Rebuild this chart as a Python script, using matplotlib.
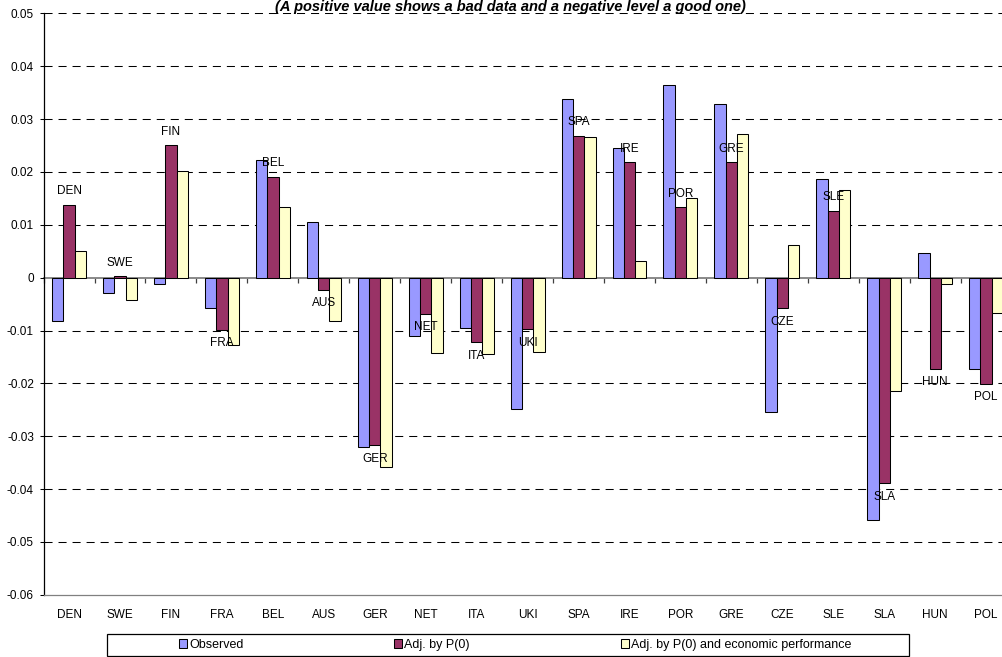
import numpy as np
import matplotlib
matplotlib.use("Agg")
import matplotlib.pyplot as plt
import matplotlib.patches as patches

plt.rcParams['font.family'] = ['Liberation Sans', 'DejaVu Sans']
plt.rcParams['lines.scale_dashes'] = False

countries = ["DEN", "SWE", "FIN", "FRA", "BEL", "AUS", "GER", "NET", "ITA", "UKI",
             "SPA", "IRE", "POR", "GRE", "CZE", "SLE", "SLA", "HUN", "POL"]

observed = [-0.0081, -0.0029, -0.0012, -0.0057, 0.0222, 0.0105, -0.0321, -0.0111, -0.0095, -0.0249,
            0.0338, 0.0245, 0.0365, 0.0328, -0.0254, 0.0187, -0.0458, 0.0047, -0.0172]
adj_p0 = [0.0138, 0.0003, 0.0251, -0.0099, 0.0191, -0.0023, -0.0317, -0.0069, -0.0122, -0.0098,
          0.0269, 0.0218, 0.0133, 0.0218, -0.0058, 0.0127, -0.0389, -0.0172, -0.0201]
adj_p0_econ = [0.0051, -0.0043, 0.0201, -0.0127, 0.0133, -0.0082, -0.0359, -0.0142, -0.0145, -0.0141,
               0.0267, 0.0031, 0.0150, 0.0272, 0.0062, 0.0166, -0.0215, -0.0012, -0.0066]

series_names = ["Observed", "Adj. by P(0)", "Adj. by P(0) and economic performance"]
series_colors = ["#9999FF", "#993366", "#FFFFCC"]

yticks = [0.05, 0.04, 0.03, 0.02, 0.01, 0, -0.01, -0.02, -0.03, -0.04, -0.05, -0.06]
ytick_labels = ["0.05", "0.04", "0.03", "0.02", "0.01", "0", "-0.01", "-0.02", "-0.03", "-0.04", "-0.05", "-0.06"]

title = "(A positive value shows a bad data and a negative level a good one)"

W, H = 1003, 657
fig = plt.figure(figsize=(W / 100, H / 100), dpi=100)
ax = fig.add_axes([43.6 / W, 1 - 594.8 / H, 968 / W, 581.35 / H])

x = np.arange(len(countries))
bw = 1 / 4.5
bars = []
for i, (vals, col) in enumerate(zip([observed, adj_p0, adj_p0_econ], series_colors)):
    b = ax.bar(x + (i - 1) * bw, vals, width=bw, color=col, edgecolor="black",
               linewidth=0.75, zorder=3, label=series_names[i])
    bars.append(b)

ax.set_xlim(-0.5, len(countries) - 0.5)
ax.set_ylim(-0.06, 0.05)

# dashed gridlines
for yv in yticks:
    if yv != 0 and yv != -0.06:
        ax.axhline(yv, color="#000000", lw=0.75, linestyle=(0, (5.8, 4.3)), zorder=1)

# country labels at the end of the middle series
for xi, v, name in zip(x, adj_p0, countries):
    off = 9.6 if v >= 0 else -9.6
    ax.annotate(name, (xi, v), xytext=(0, off), textcoords="offset points",
                ha="center", va="center", fontsize=8.5, zorder=5)

ax.set_yticks(yticks)
ax.set_yticklabels(ytick_labels)
ax.tick_params(axis="y", direction="out", length=3, width=0.75, pad=4, labelsize=8.5)
ax.set_xticks(x)
ax.set_xticklabels(countries)
ax.tick_params(axis="x", length=0, pad=10, labelsize=8.5)

for s in ["top", "right"]:
    ax.spines[s].set_visible(False)
ax.spines["left"].set_color("black")
ax.spines["left"].set_linewidth(0.9)
ax.spines["bottom"].set_color("#808080")
ax.spines["bottom"].set_linewidth(0.9)

# category axis line at zero with ticks between categories
ymin, ymax = ax.get_ylim()
zero_pos = (0 - ymin) / (ymax - ymin)
sec = ax.secondary_xaxis(zero_pos)
sec.set_xticks(np.arange(len(countries) + 1) - 0.5)
sec.set_xticklabels([])
sec.tick_params(direction="in", length=3.5, width=0.9, color="#404040")
for s in sec.spines.values():
    s.set_color("#808080")
    s.set_linewidth(1.3)

fig.text(510 / W, 1 - 11.5 / H, title, ha="center", va="baseline",
         fontsize=10.5, fontweight="bold", fontstyle="italic", zorder=6)

# legend
box = patches.Rectangle((106.7 / W, 1 - 655.5 / H), (909 - 106.7) / W, 21.5 / H,
                        transform=fig.transFigure, facecolor="white",
                        edgecolor="black", linewidth=0.9)
fig.patches.append(box)
fig.legend(handles=bars, labels=series_names, ncol=3, mode="expand",
           bbox_to_anchor=(179 / W, 1 - 655.5 / H, (851 - 179) / W, 21.5 / H),
           loc="center", frameon=False, fontsize=9, borderpad=0, borderaxespad=0,
           handlelength=0.65, handleheight=0.65, handletextpad=0.15)

fig.savefig("out.png", dpi=100)
